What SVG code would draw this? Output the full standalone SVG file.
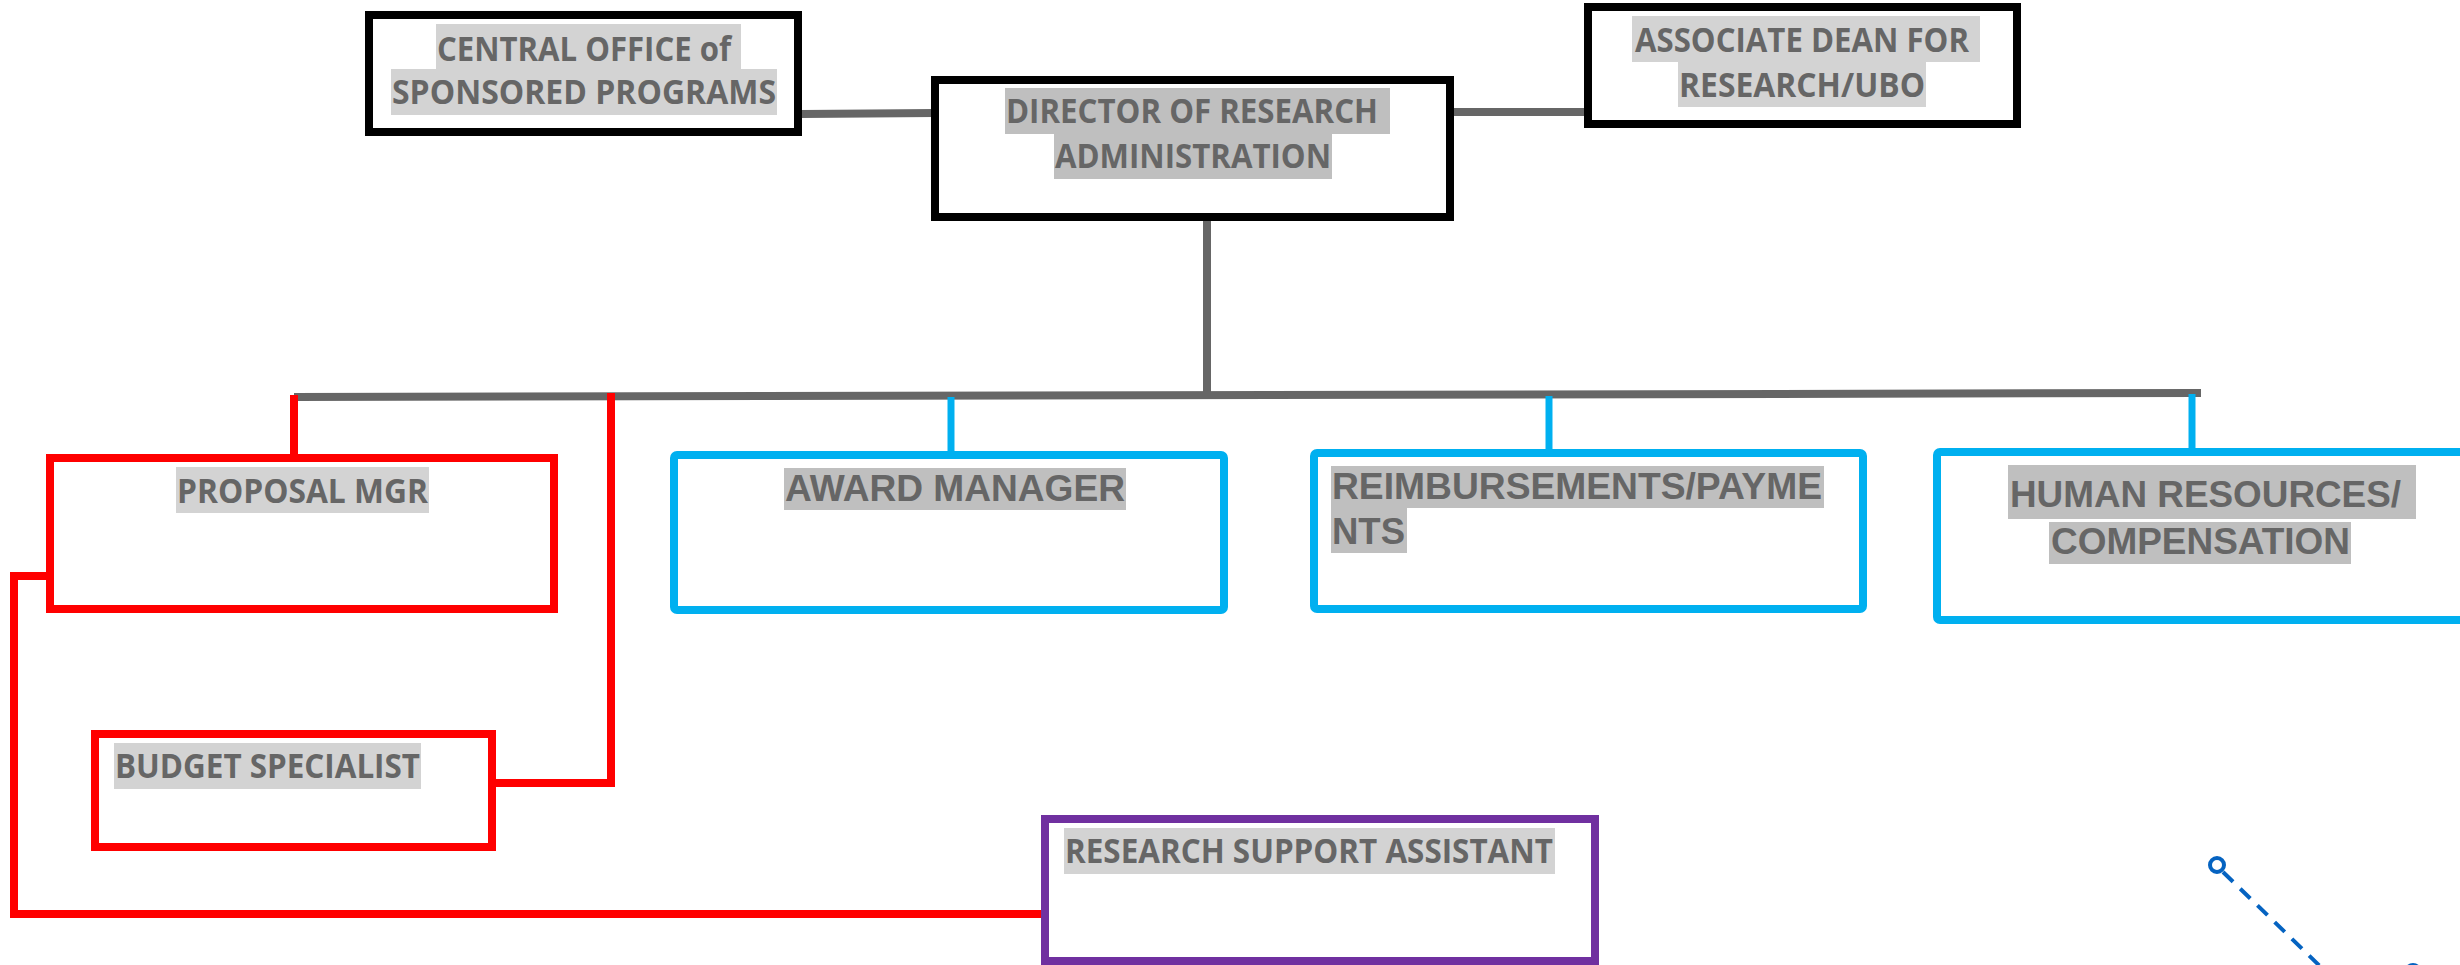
<svg xmlns="http://www.w3.org/2000/svg" width="2460" height="965" viewBox="0 0 2460 965">
<style>
.box{fill:#fff;stroke-width:8}
.blk{stroke:#000}
.red{stroke:#FF0000}
.blu{stroke:#00B0F0}
.pur{stroke:#7030A0}
.hl1{fill:#D3D3D3}
.hl2{fill:#BFBFBF}
.t1{font-family:"Open Sans","Noto Sans",sans-serif;font-weight:700;font-size:34px;fill:#666}
.t2{font-family:"Liberation Sans",Arial,sans-serif;font-weight:700;font-size:37px;fill:#666}
.cg{fill:none;stroke:#666;stroke-width:8}
.cr{fill:none;stroke:#FF0000;stroke-width:8}
.cb{fill:none;stroke:#00B0F0;stroke-width:7}
.cd{fill:none;stroke:#0563C1;stroke-width:4}
</style>
<rect width="2460" height="965" fill="#fff"/>
<g id="connectors">
<line class="cg" x1="802" y1="114" x2="935" y2="113"/>
<line class="cg" x1="1450" y1="112" x2="1588" y2="112"/>
<line class="cg" x1="1207" y1="217" x2="1207" y2="395"/>
<line class="cg" x1="294" y1="397" x2="2201" y2="393"/>
<line class="cr" x1="294" y1="395" x2="294" y2="458"/>
<path class="cr" d="M611 393 V783 H492"/>
<path class="cr" d="M54 576 H14 V914 H1045"/>
<line class="cb" x1="951" y1="397" x2="951" y2="455"/>
<line class="cb" x1="1549" y1="396" x2="1549" y2="453"/>
<line class="cb" x1="2192" y1="394" x2="2192" y2="452"/>
<line class="cd" x1="2223" y1="872" x2="2324" y2="970" stroke-dasharray="14 10"/>
<circle class="cd" cx="2217" cy="865" r="7" stroke-width="4"/>
<circle class="cd" cx="2413" cy="972" r="7" stroke-width="4"/>
</g>
<g id="central-office">
<rect class="box blk" x="369" y="15" width="429" height="117"/>
<rect class="hl1" x="436" y="24" width="305" height="45"/>
<rect class="hl1" x="391" y="69" width="386" height="46"/>
<text class="t1" x="437" y="61" textLength="294" lengthAdjust="spacingAndGlyphs">CENTRAL OFFICE of</text>
<text class="t1" x="392" y="104" textLength="384" lengthAdjust="spacingAndGlyphs">SPONSORED PROGRAMS</text>
</g>
<g id="director">
<rect class="box blk" x="935" y="80" width="515" height="137"/>
<rect class="hl2" x="1005" y="88" width="385" height="46"/>
<rect class="hl2" x="1054" y="134" width="278" height="45"/>
<text class="t1" x="1006" y="123" textLength="372" lengthAdjust="spacingAndGlyphs">DIRECTOR OF RESEARCH</text>
<text class="t1" x="1055" y="168" textLength="276" lengthAdjust="spacingAndGlyphs">ADMINISTRATION</text>
</g>
<g id="associate-dean">
<rect class="box blk" x="1588" y="7" width="429" height="117"/>
<rect class="hl1" x="1632" y="16" width="348" height="46"/>
<rect class="hl1" x="1678" y="62" width="248" height="45"/>
<text class="t1" x="1635" y="52" textLength="334" lengthAdjust="spacingAndGlyphs">ASSOCIATE DEAN FOR</text>
<text class="t1" x="1679" y="97" textLength="246" lengthAdjust="spacingAndGlyphs">RESEARCH/UBO</text>
</g>
<g id="proposal-mgr">
<rect class="box red" x="50" y="458" width="504" height="151"/>
<rect class="hl1" x="176" y="467" width="253" height="46"/>
<text class="t1" x="177" y="503" textLength="251" lengthAdjust="spacingAndGlyphs">PROPOSAL MGR</text>
</g>
<g id="budget-specialist">
<rect class="box red" x="95" y="734" width="397" height="113"/>
<rect class="hl1" x="114" y="743" width="307" height="46"/>
<text class="t1" x="115" y="778" textLength="305" lengthAdjust="spacingAndGlyphs">BUDGET SPECIALIST</text>
</g>
<g id="award-manager">
<rect class="box blu" x="674" y="455" width="550" height="155" rx="3"/>
<rect class="hl2" x="784" y="468" width="342" height="42"/>
<text class="t2" x="785" y="501" textLength="340" lengthAdjust="spacingAndGlyphs">AWARD MANAGER</text>
</g>
<g id="reimbursements">
<rect class="box blu" x="1314" y="453" width="549" height="156" rx="3"/>
<rect class="hl2" x="1331" y="466" width="493" height="42"/>
<rect class="hl2" x="1331" y="508" width="76" height="45"/>
<text class="t2" x="1332" y="499" textLength="490" lengthAdjust="spacingAndGlyphs">REIMBURSEMENTS/PAYME</text>
<text class="t2" x="1332" y="544" textLength="73" lengthAdjust="spacingAndGlyphs">NTS</text>
</g>
<g id="human-resources">
<rect class="box blu" x="1937" y="452" width="540" height="168" rx="3"/>
<rect class="hl2" x="2008" y="465" width="408" height="54"/>
<rect class="hl2" x="2049" y="522" width="302" height="42"/>
<text class="t2" x="2010" y="507" textLength="391" lengthAdjust="spacingAndGlyphs">HUMAN RESOURCES/</text>
<text class="t2" x="2051" y="554" textLength="299" lengthAdjust="spacingAndGlyphs">COMPENSATION</text>
</g>
<g id="research-support-assistant">
<rect class="box pur" x="1045" y="819" width="550" height="142"/>
<rect class="hl1" x="1064" y="828" width="491" height="46"/>
<text class="t1" x="1065" y="863" textLength="488" lengthAdjust="spacingAndGlyphs">RESEARCH SUPPORT ASSISTANT</text>
</g>
</svg>
